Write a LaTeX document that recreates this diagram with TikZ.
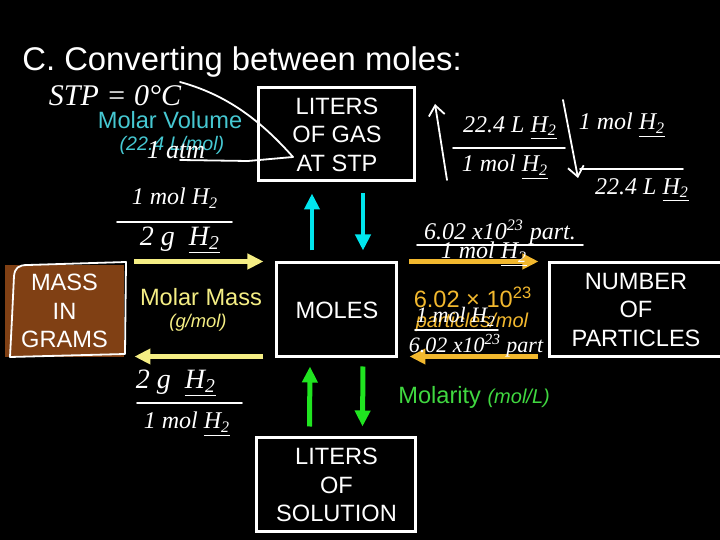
\documentclass[tikz,border=0pt]{standalone}
\usepackage{fontspec}
\setmainfont{Liberation Sans}
\newfontfamily\handfont{Liberation Serif}
\usetikzlibrary{arrows.meta,calc}

\definecolor{volcyan}{RGB}{70,200,210}
\definecolor{flowcyan}{RGB}{0,230,238}
\definecolor{massyellow}{RGB}{245,238,132}
\definecolor{avogold}{RGB}{242,184,46}
\definecolor{molgreen}{RGB}{64,216,64}
\definecolor{flowgreen}{RGB}{32,228,32}
\definecolor{massbrown}{RGB}{128,64,20}

\newcommand{\Htwo}{H\textsubscript{2}}
\newcommand{\uHtwo}{\underline{H\textsubscript{2}}}

\begin{document}
\begin{tikzpicture}[x=0.5pt,y=-0.5pt,
  box/.style={draw=white, line width=1.5pt, fill=black, text=white, align=center,
    inner sep=0pt, font=\fontsize{11.8}{14.3}\selectfont},
  cue/.style={inner sep=0pt, font=\fontsize{11.8}{14}\selectfont},
  cueunit/.style={inner sep=0pt, font=\fontsize{9.8}{12}\selectfont\itshape},
  flow/.style={line width=2.2pt, -{Triangle[length=8pt,width=7.5pt]}},
  scrawl/.style={text=white, inner sep=0pt, font=\handfont\itshape\fontsize{12}{14}\selectfont},
  ink/.style={white, line width=0.9pt, line cap=round, line join=round}]
  % Background
  \useasboundingbox (0,0) rectangle (720,540);
  \clip (0,0) rectangle (720,540);
  \fill[black] (0,0) rectangle (720,540);
  % Title
  \node[anchor=base west, text=white, inner sep=0pt,
        font=\fontsize{16.4}{20}\selectfont] (title) at (22,71) {C. Converting between moles:};
  % Boxes
  \node[box, minimum width=78pt, minimum height=46.5pt] (gas) at (337,134.5) {LITERS\\OF GAS\\AT STP};
  \node[box, draw=none, fill=massbrown, minimum width=59.5pt, minimum height=46pt] (mass) at (64.5,311) {MASS\\IN\\GRAMS};
  \node[box, minimum width=60pt, minimum height=47pt] (moles) at (337,310) {MOLES};
  \node[box, minimum width=86pt, minimum height=47pt] (num) at (636,310) {NUMBER\\OF\\PARTICLES};
  \node[box, minimum width=79.5pt, minimum height=47pt] (sol) at (336.5,485) {LITERS\\OF\\SOLUTION};
  % Conversion arrows
  \draw[flow, flowcyan] ($(moles.north)+(-25,-11)$) -- ($(gas.south)+(-25,11)$);
  \draw[flow, flowcyan] ($(gas.south)+(26,11)$) -- ($(moles.north)+(26,-11)$);
  \draw[flow, massyellow] ($(mass.north east)+(9,-2)$) -- ($(moles.north west)+(-12,0)$);
  \draw[flow, massyellow] ($(moles.south west)+(-12,-2)$) -- ($(mass.south east)+(9,-2)$);
  \draw[flow, avogold] ($(moles.north east)+(11,0)$) -- ($(num.north west)+(-10,0)$);
  \draw[flow, avogold] ($(num.south west)+(-10,-2)$) -- ($(moles.south east)+(11,-2)$);
  \draw[flow, flowgreen, line width=2.5pt] ($(sol.north)+(-27,-10)$) -- ($(moles.south)+(-27,8)$);
  \draw[flow, flowgreen, line width=2.5pt] ($(moles.south)+(26,8)$) -- ($(sol.north)+(26,-10)$);
  % Conversion factors
  \node[cue, text=volcyan] (molvol) at (170,120) {Molar Volume};
  \node[cueunit, text=volcyan] (molvolunit) at (172,145) {(22.4 L/mol)};
  \node[cue, text=massyellow] (molmass) at (201,297) {Molar Mass};
  \node[cueunit, text=massyellow, font=\fontsize{9.2}{11}\selectfont\itshape] (molmassunit) at (198,323) {(g/mol)};
  \node[cue, text=avogold] (avog) at (473,297) {6.02 × 10\textsuperscript{23}};
  \node[cueunit, text=avogold, font=\fontsize{10}{12}\selectfont\itshape] (avogunit) at (472,322) {particles/mol};
  \node[cue, anchor=west, text=molgreen] (molarity) at (398,397)
       {Molarity {\fontsize{10}{12}\selectfont\itshape (mol/L)}};
  % Handwritten notes: STP
  \node[scrawl, font=\handfont\itshape\fontsize{15}{17}\selectfont] (stp) at (115,96) {STP = 0°C};
  \node[scrawl, font=\handfont\itshape\fontsize{13}{15}\selectfont] (atm) at (176,150) {1 atm};
  \draw[ink] (180,82) .. controls (228,95) and (262,122) .. (293,157);
  \draw[ink] (180,160) -- (248,161) -- (293,157);
  \draw[ink] (14,276) .. controls (15,268) and (18,265) .. (28,265) -- (126,262)
             -- (125,354) -- (10,357) -- (12,318) -- cycle;
  % Handwritten notes: gas volume
  \node[scrawl] (gvnum) at (510,128) {22.4 L \uHtwo};
  \draw[ink] (453,148) -- (565,148);
  \node[scrawl] (gvden) at (505,167) {1 mol \uHtwo};
  \draw[ink, -{Straight Barb[length=5pt,width=8pt]}] (447,180) -- (435,104);
  \draw[ink, -{Straight Barb[length=5pt,width=8pt]}] (563,100) -- (578,178);
  \node[scrawl] (vgnum) at (622,125) {1 mol \uHtwo};
  \draw[ink] (580,169) -- (683,169);
  \node[scrawl] (vgden) at (642,190) {22.4 L \uHtwo};
  % Handwritten notes: mass
  \node[scrawl] (gmnum) at (175,198) {1 mol \Htwo};
  \draw[ink] (117,222) -- (232,222);
  \node[scrawl, font=\handfont\itshape\fontsize{14}{16}\selectfont] (gmden) at (180,240) {2 g \ \uHtwo};
  \node[scrawl, font=\handfont\itshape\fontsize{14}{16}\selectfont] (mgnum) at (176,383) {2 g \ \uHtwo};
  \draw[ink] (137,403) -- (242,403);
  \node[scrawl] (mgden) at (187,424) {1 mol \uHtwo};
  % Handwritten notes: particles
  \node[scrawl] (pnum) at (500,232) {6.02 x10\textsuperscript{23} part.};
  \draw[ink] (417,245) -- (583,245);
  \node[scrawl] (pden) at (484,254) {1 mol \uHtwo};
  \node[scrawl, font=\handfont\itshape\fontsize{11}{13}\selectfont] (npnum) at (456,317) {1 mol \Htwo};
  \draw[ink] (415,330) -- (498,330);
  \node[scrawl, font=\handfont\itshape\fontsize{11}{13}\selectfont] (npden) at (476,346) {6.02 x10\textsuperscript{23} part};
\end{tikzpicture}
\end{document}
